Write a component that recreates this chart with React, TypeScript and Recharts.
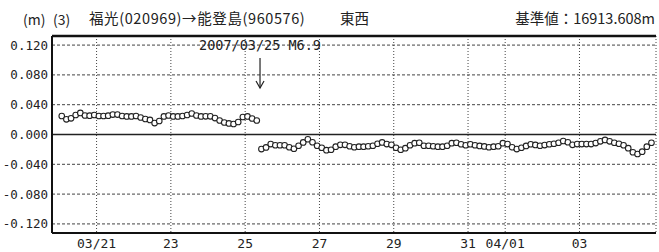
import React from "react";
import { LineChart, Line, XAxis, YAxis, CartesianGrid, ReferenceLine } from "recharts";

// sampling: every 3 hours (0.125 day), time in days from 03/21 00:00
const LEFT_START = -0.9375;
const RIGHT_START = 4.4375;
const STEP = 0.125;

const leftValues = [
  0.0248, 0.0204, 0.0217, 0.0262, 0.0289, 0.0255, 0.0252, 0.0262, 0.0248, 0.0248,
  0.0252, 0.0268, 0.0268, 0.0248, 0.0242, 0.0242, 0.0248, 0.0228, 0.0208, 0.0195,
  0.0154, 0.0181, 0.0242, 0.0255, 0.0242, 0.0242, 0.0248, 0.0262, 0.0282, 0.0255,
  0.0242, 0.0244, 0.0244, 0.0221, 0.0188, 0.0161, 0.0148, 0.0141, 0.0168, 0.0235,
  0.0242, 0.0215, 0.0188,
];

const rightValues = [
  -0.0195, -0.0174, -0.0128, -0.0144, -0.0144, -0.0144, -0.0171, -0.0191, -0.0151, -0.0107,
  -0.0064, -0.0104, -0.0151, -0.0178, -0.0211, -0.0205, -0.0164, -0.0138, -0.0138, -0.0158,
  -0.0171, -0.0164, -0.0164, -0.0158, -0.0151, -0.0124, -0.0107, -0.0128, -0.0138, -0.0178,
  -0.0205, -0.0184, -0.0144, -0.0117, -0.0111, -0.0151, -0.0151, -0.0158, -0.0164, -0.0164,
  -0.0151, -0.0117, -0.0111, -0.0131, -0.0144, -0.0131, -0.0144, -0.0154, -0.0160, -0.0171,
  -0.0164, -0.0158, -0.0117, -0.0128, -0.0171, -0.0195, -0.0178, -0.0154, -0.0131, -0.0140,
  -0.0151, -0.0142, -0.0131, -0.0124, -0.0111, -0.0087, -0.0104, -0.0138, -0.0128, -0.0128,
  -0.0128, -0.0128, -0.0115, -0.0091, -0.0073, -0.0091, -0.0111, -0.0124, -0.0144, -0.0184,
  -0.0238, -0.0262, -0.0231, -0.0164, -0.0111,
];

const xTicks = [0, 2, 4, 6, 8, 10, 11, 13];
const xTickLabels = ["03/21", "23", "25", "27", "29", "31", "04/01", "03"];
const yTicks = [0.12, 0.08, 0.04, 0, -0.04, -0.08, -0.12];

const EQ_TIME = 4.4;
const EQ_LABEL = "2007/03/25 M6.9";

const leftData = leftValues.map((v, i) => ({ t: LEFT_START + i * STEP, v }));
const rightData = rightValues.map((v, i) => ({ t: RIGHT_START + i * STEP, v }));

const fmtY = (v: number) => {
  const s = Math.abs(v).toFixed(3);
  return v < 0 ? "-" + s : s;
};
const fmtX = (v: number) => {
  const i = xTicks.indexOf(v);
  return i >= 0 ? xTickLabels[i] : "";
};

const MONO = "'DejaVu Sans Mono', 'Liberation Mono', monospace";
const CJK = "'Noto Sans CJK JP', 'Noto Sans', sans-serif";

const Dot = (props: any) => {
  const { cx, cy } = props;
  if (cx == null || cy == null) return null;
  return <circle cx={cx} cy={cy} r={2.8} fill="#fff" stroke="#222" strokeWidth={1.1} />;
};

const ArrowShape = (props: any) => {
  const { x1, y1, x2, y2 } = props;
  if (x1 == null) return null;
  const top = Math.min(y1, y2);
  const bot = Math.max(y1, y2);
  return (
    <g>
      <text x={x1} y={top - 8} textAnchor="middle" fontFamily={MONO} fontSize={13.5} fill="#222">
        {EQ_LABEL}
      </text>
      <line x1={x1} y1={top} x2={x1} y2={bot} stroke="#222" strokeWidth={1.2} />
      <path d={`M${x1 - 4},${bot - 7} L${x1},${bot} L${x1 + 4},${bot - 7}`} fill="none" stroke="#222" strokeWidth={1.2} />
    </g>
  );
};

export default function App() {
  return (
    <div style={{ position: "absolute", left: 0, top: 0, width: 659, height: 252, background: "#fff" }}>
      <div style={{ position: "absolute", left: 23, top: 10, fontFamily: CJK, fontSize: 14, color: "#222", whiteSpace: "pre", lineHeight: "18px" }}>
        (m)
      </div>
      <div style={{ position: "absolute", left: 53, top: 10, fontFamily: CJK, fontSize: 14, color: "#222", whiteSpace: "pre", lineHeight: "18px" }}>
        (3)
      </div>
      <div style={{ position: "absolute", left: 89, top: 9, fontFamily: CJK, fontSize: 14.5, color: "#222", whiteSpace: "pre", lineHeight: "18px", letterSpacing: 0.6 }}>
        福光(020969)→能登島(960576)
      </div>
      <div style={{ position: "absolute", left: 340, top: 9, fontFamily: CJK, fontSize: 14.5, color: "#222", whiteSpace: "pre", lineHeight: "18px" }}>
        東西
      </div>
      <div style={{ position: "absolute", right: 4, top: 9, fontFamily: CJK, fontSize: 14.5, color: "#222", whiteSpace: "pre", lineHeight: "18px" }}>
        基準値：16913.608m
      </div>
      <LineChart width={659} height={252} margin={{ top: 36, right: 3, bottom: 0, left: 0 }}>
        <CartesianGrid horizontal={false} vertical={true} stroke="#444" strokeDasharray="1 2" />
        <XAxis
          type="number"
          dataKey="t"
          domain={[-1.2, 15.06]}
          allowDataOverflow
          ticks={xTicks}
          tickFormatter={fmtX}
          tickLine={false}
          tickSize={4}
          height={19}
          axisLine={{ stroke: "#111", strokeWidth: 2 }}
          tick={{ fontFamily: MONO, fontSize: 13, fill: "#222" }}
          interval={0}
        />
        <YAxis
          type="number"
          domain={[-0.1322, 0.1322]}
          allowDataOverflow
          ticks={yTicks}
          tickFormatter={fmtY}
          tickLine={false}
          tickSize={2}
          width={52}
          axisLine={{ stroke: "#111", strokeWidth: 2 }}
          tick={{ fontFamily: MONO, fontSize: 12.5, fill: "#222" }}
          interval={0}
        />
        {yTicks.filter((y) => y !== 0).map((y) => (
          <ReferenceLine key={y} y={y} stroke="#444" strokeDasharray="3 2" strokeWidth={1} />
        ))}
        <ReferenceLine y={0} stroke="#222" strokeWidth={1.3} />
        <ReferenceLine y={0.1322} stroke="#111" strokeWidth={2.5} />
        <ReferenceLine
          segment={[{ x: EQ_TIME, y: 0.1027 }, { x: EQ_TIME, y: 0.0624 }]}
          shape={ArrowShape}
          stroke="#222"
        />
        <Line
          data={leftData}
          dataKey="v"
          stroke="#333"
          strokeWidth={1}
          dot={<Dot />}
          isAnimationActive={false}
        />
        <Line
          data={rightData}
          dataKey="v"
          stroke="#333"
          strokeWidth={1}
          dot={<Dot />}
          isAnimationActive={false}
        />
      </LineChart>
    </div>
  );
}
